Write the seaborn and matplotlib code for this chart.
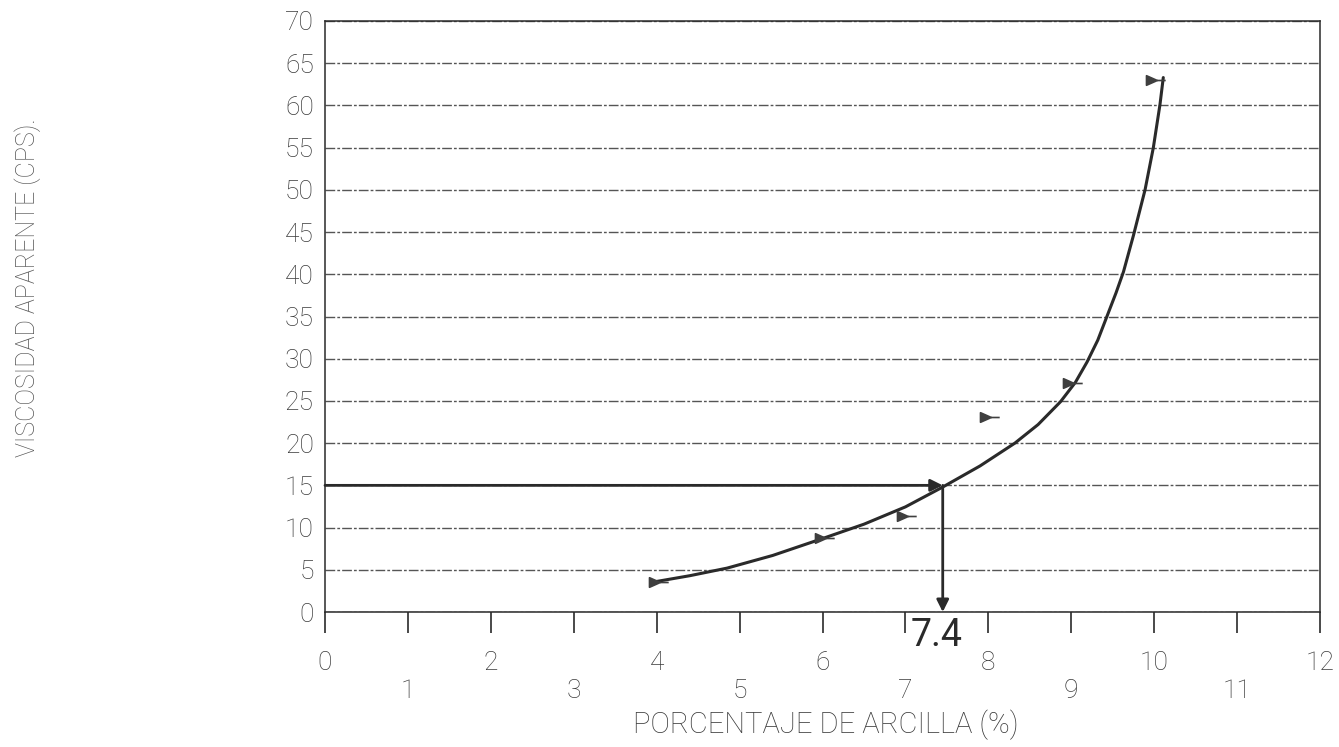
"""Viscosidad aparente vs porcentaje de arcilla, redrawn with seaborn"""

import matplotlib
matplotlib.use("Agg")
import matplotlib.pyplot as plt
from matplotlib.path import Path
import seaborn as sns


# measured points
CLAY_PCT = [4, 6, 7, 8, 9, 10]
VISCOSITY_CPS = [3.5, 8.8, 11.4, 23.1, 27.1, 63.0]

# hand drawn trend curve
CURVE_X = [3.96, 4.4, 4.85, 5.4, 6.0, 6.5, 7.0, 7.45, 7.9, 8.32, 8.6, 8.87, 9.05, 9.19,
           9.32, 9.43, 9.54, 9.63, 9.75, 9.89, 9.99, 10.07, 10.11]
CURVE_Y = [3.55, 4.3, 5.2, 6.7, 8.7, 10.4, 12.45, 14.8, 17.3, 20.0, 22.2, 24.9, 27.2, 29.6,
           32.2, 35.0, 37.8, 40.3, 44.6, 50.0, 55.0, 60.1, 63.3]

# reading at 15 cps
TARGET_CPS = 15
READ_PCT = 7.45
READ_LABEL = "7.4"

X_TICKS = list(range(0, 13))
Y_TICKS = list(range(0, 71, 5))

INK = "#2a2a2a"
FONT = ["Roboto", "DejaVu Sans"]

sns.set_style("white")
plt.rcParams["font.family"] = FONT
plt.rcParams["font.weight"] = "light"

fig = plt.figure(figsize=(13.39, 7.47), dpi=100)
ax = fig.add_axes([325 / 1339, 1 - 612 / 747, 995 / 1339, 591 / 747])

# flag marker: triangle with a short tail
flag = Path(
    [(-1.0, 0.6), (0.35, 0.0), (-1.0, -0.6), (-1.0, 0.6), (0.35, 0.0), (1.4, 0.0)],
    [Path.MOVETO, Path.LINETO, Path.LINETO, Path.CLOSEPOLY, Path.MOVETO, Path.LINETO],
)

for y in Y_TICKS:
    ax.axhline(y, color="#555555", lw=1.0, ls=(0, (7, 1.5, 2, 1.5)), zorder=0)

sns.lineplot(x=CURVE_X, y=CURVE_Y, sort=False, estimator=None, color=INK, lw=2.2, ax=ax, zorder=3)
sns.scatterplot(x=CLAY_PCT, y=VISCOSITY_CPS, marker=flag, s=260, color="#3f3f3f",
                edgecolor="#3f3f3f", linewidth=1.2, ax=ax, zorder=4)

arrow = dict(arrowstyle="-|>", color=INK, lw=2.0, mutation_scale=18, shrinkA=0, shrinkB=0)
ax.annotate("", xy=(READ_PCT, TARGET_CPS), xytext=(0, TARGET_CPS), arrowprops=arrow, zorder=5)
ax.annotate("", xy=(READ_PCT, 0), xytext=(READ_PCT, TARGET_CPS), arrowprops=arrow, zorder=5)
ax.text(READ_PCT - 0.07, -0.55, READ_LABEL, ha="center", va="top", fontsize=27, color=INK,
        family=FONT, weight="normal", zorder=6)

ax.set_xlim(0, 12)
ax.set_ylim(0, 70)
ax.set_xticks(X_TICKS)
ax.set_xticklabels([str(v) for v in X_TICKS])
ax.set_yticks(Y_TICKS)
ax.set_yticklabels([str(v) for v in Y_TICKS])
ax.tick_params(axis="x", bottom=True, direction="out", length=15, width=1.2, color=INK,
               labelsize=19, labelcolor="#3a3a3a")
ax.tick_params(axis="y", left=False, length=0, pad=8, labelsize=19, labelcolor="#3a3a3a")

# odd labels sit on a second row
for i, tick in enumerate(ax.xaxis.get_major_ticks()):
    tick.set_pad(13 if i % 2 == 0 else 33)

for side in ["left", "right", "top", "bottom"]:
    ax.spines[side].set_visible(True)
    ax.spines[side].set_color(INK)
    ax.spines[side].set_linewidth(1.1)

fig.text(826 / 1339, 1 - 725 / 747, "PORCENTAJE DE ARCILLA (%)", ha="center", va="center",
         fontsize=21, color="#3a3a3a")
fig.text(28 / 1339, 1 - 288 / 747, "VISCOSIDAD APARENTE (CPS).", ha="center", va="center",
         rotation=90, fontsize=18, color="#555555")

fig.savefig("out.png", dpi=100)
